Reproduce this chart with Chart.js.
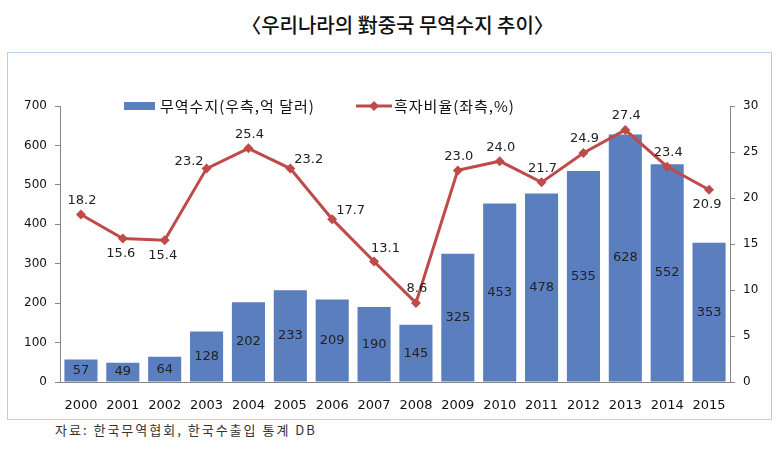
<!DOCTYPE html>
<html>
<head>
<meta charset="utf-8">
<script src="https://cdn.jsdelivr.net/npm/chart.js@4.4.0/dist/chart.umd.min.js"></script>
<style>
  body { margin: 0; width: 783px; height: 461px; background: #fff; position: relative; overflow: hidden; }
  #title { position: absolute; left: 0; top: 10px; width: 795px; text-align: center;
           font: 500 20px "Noto Sans CJK KR"; color: #111; }
  #box { position: absolute; left: 7px; top: 52px; width: 763px; height: 366px; border: 1px solid #b9cde5; }
  #source { position: absolute; left: 55px; top: 420px; font: 13px "Noto Sans CJK KR";
            letter-spacing: 2px; color: #333; }
</style>
</head>
<body>
<div id="title">〈우리나라의 對중국 무역수지 추이〉</div>
<div id="box"><canvas id="chart" width="763" height="366"></canvas></div>
<div id="source">자료: 한국무역협회, 한국수출입 통계 DB</div>
<script>
    const years = ['2000', '2001', '2002', '2003', '2004', '2005', '2006', '2007',
                   '2008', '2009', '2010', '2011', '2012', '2013', '2014', '2015'];
    // 무역수지 (억 달러)
    const balance = [57, 49, 64, 128, 202, 233, 209, 190, 145, 325, 453, 478, 535, 628, 552, 353];
    // 흑자비율 (%)
    const ratio = [18.2, 15.6, 15.4, 23.2, 25.4, 23.2, 17.7, 13.1, 8.6, 23.0, 24.0, 21.7, 24.9, 27.4, 23.4, 20.9];
    const leftTicks = [0, 100, 200, 300, 400, 500, 600, 700];
    const rightTicks = [0, 5, 10, 15, 20, 25, 30];

    // 라벨 위치 (스타일)
    const ratioLabelPos = ['above', 'below', 'below', 'left', 'above', 'right', 'right', 'aboveRight',
                           'above', 'above', 'above', 'above', 'above', 'above', 'above', 'below'];

    const barColor = '#5a7ebe';
    const lineColor = '#be4b48';
    const axisColor = '#868686';
    const numFont = '"DejaVu Sans", Verdana, sans-serif';
    const krFont = '"Noto Sans CJK KR", sans-serif';

    const labelPlugin = {
        id: 'valueLabels',
        afterDatasetsDraw(chart) {
            const ctx = chart.ctx;
            ctx.save();
            ctx.font = '13px ' + numFont;
            ctx.fillStyle = '#222';
            ctx.textBaseline = 'middle';

            chart.getDatasetMeta(1).data.forEach((bar, i) => {
                ctx.textAlign = 'center';
                ctx.fillText(String(balance[i]), bar.x, (bar.y + bar.base) / 2);
            });

            chart.getDatasetMeta(0).data.forEach((pt, i) => {
                const txt = ratio[i].toFixed(1);
                const pos = ratioLabelPos[i];
                if (pos === 'above') {
                    ctx.textAlign = 'center';
                    ctx.fillText(txt, pt.x + 1, pt.y - 14);
                } else if (pos === 'below') {
                    ctx.textAlign = 'center';
                    ctx.fillText(txt, pt.x - 2, pt.y + 15);
                } else if (pos === 'left') {
                    ctx.textAlign = 'right';
                    ctx.fillText(txt, pt.x - 3, pt.y - 7);
                } else if (pos === 'aboveRight') {
                    ctx.textAlign = 'left';
                    ctx.fillText(txt, pt.x - 3, pt.y - 13);
                } else {
                    ctx.textAlign = 'left';
                    ctx.fillText(txt, pt.x + 4, pt.y - 9);
                }
            });
            ctx.restore();
        }
    };

    const legendPlugin = {
        id: 'customLegend',
        afterDraw(chart) {
            const ctx = chart.ctx;
            ctx.save();
            ctx.font = '15px ' + krFont;
            ctx.letterSpacing = '1px';
            ctx.fillStyle = '#111';
            ctx.textBaseline = 'middle';
            ctx.textAlign = 'left';
            const y = 53;

            ctx.fillStyle = barColor;
            ctx.fillRect(116, y - 4, 31, 8);
            ctx.fillStyle = '#111';
            ctx.fillText('무역수지(우측,억 달러)', 152, y);

            ctx.strokeStyle = lineColor;
            ctx.lineWidth = 3;
            ctx.beginPath();
            ctx.moveTo(348, y);
            ctx.lineTo(384, y);
            ctx.stroke();
            ctx.fillStyle = lineColor;
            ctx.beginPath();
            ctx.moveTo(366, y - 5);
            ctx.lineTo(371, y);
            ctx.lineTo(366, y + 5);
            ctx.lineTo(361, y);
            ctx.closePath();
            ctx.fill();
            ctx.fillStyle = '#111';
            ctx.fillText('흑자비율(좌측,%)', 386, y);
            ctx.restore();
        }
    };

    const chart = new Chart(document.getElementById('chart').getContext('2d'), {
        data: {
            labels: years,
            datasets: [{
                type: 'line',
                label: '흑자비율(좌측,%)',
                data: ratio,
                yAxisID: 'yRight',
                borderColor: lineColor,
                backgroundColor: lineColor,
                borderWidth: 3,
                pointStyle: 'rectRot',
                pointRadius: 5,
                pointBorderWidth: 0,
                tension: 0,
                order: 0
            }, {
                type: 'bar',
                label: '무역수지(우측,억 달러)',
                data: balance,
                yAxisID: 'yLeft',
                backgroundColor: barColor,
                borderWidth: 0,
                barPercentage: 0.79,
                categoryPercentage: 1.0,
                order: 1
            }]
        },
        options: {
            responsive: false,
            animation: false,
            layout: { padding: { top: 53, left: 0, right: 0, bottom: 0 } },
            plugins: {
                legend: { display: false },
                tooltip: { enabled: false },
                title: { display: false }
            },
            scales: {
                x: {
                    grid: { display: false },
                    border: { display: true, color: axisColor, width: 1 },
                    ticks: { color: '#111', font: { family: numFont, size: 13 }, padding: 8, maxRotation: 0 },
                    afterFit(scale) { scale.height = 37; }
                },
                yLeft: {
                    position: 'left',
                    min: 0,
                    max: 700,
                    afterBuildTicks(scale) { scale.ticks = leftTicks.map(v => ({ value: v })); },
                    grid: { drawOnChartArea: false, drawTicks: true, tickLength: 5, color: axisColor },
                    border: { display: true, color: axisColor, width: 1 },
                    ticks: { color: '#111', font: { family: numFont, size: 12 }, padding: 8 },
                    afterFit(scale) { scale.width = 52; }
                },
                yRight: {
                    position: 'right',
                    min: 0,
                    max: 30,
                    afterBuildTicks(scale) { scale.ticks = rightTicks.map(v => ({ value: v })); },
                    grid: { drawOnChartArea: false, drawTicks: true, tickLength: 5, color: axisColor },
                    border: { display: true, color: axisColor, width: 1 },
                    ticks: { color: '#111', font: { family: numFont, size: 12 }, padding: 8 },
                    afterFit(scale) { scale.width = 41; }
                }
            }
        },
        plugins: [labelPlugin, legendPlugin]
    });
</script>
</body>
</html>
